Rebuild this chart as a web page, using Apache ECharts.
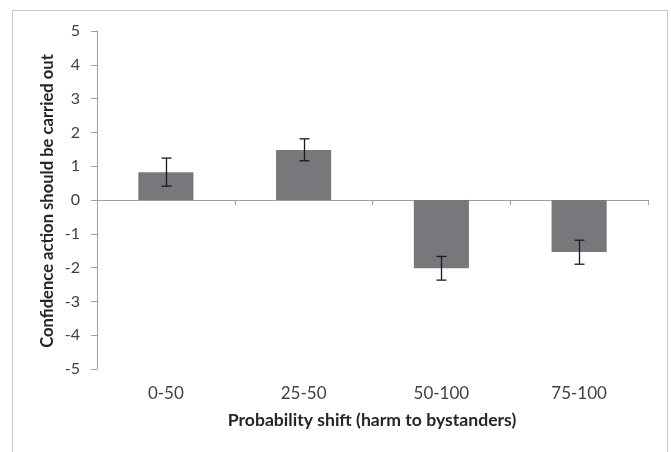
<!DOCTYPE html>
<html><head><meta charset="utf-8">
<script src="https://cdn.jsdelivr.net/npm/echarts@6/dist/echarts.min.js"></script>
<style>html,body{margin:0;padding:0;background:#fff}#c{width:671px;height:452px}</style>
</head><body><div id="c"></div>
<script>
const categories = ['0-50', '25-50', '50-100', '75-100'];
const means = [0.82, 1.48, -2.02, -1.54];
const errLow = [0.41, 1.16, -2.37, -1.90];
const errHigh = [1.24, 1.81, -1.67, -1.19];
const yTicks = [-5, 5, 1];

const FONT = 'Lato';
const chart = echarts.init(document.getElementById('c'));
chart.setOption({
  animation: false,
  backgroundColor: '#fff',
  textStyle: { fontFamily: FONT },
  graphic: [
    { type: 'rect', shape: { x: 12.5, y: 10.5, width: 655, height: 460 }, style: { fill: 'none', stroke: '#c8c8c8', lineWidth: 1 }, silent: true },
    { type: 'text', x: 48, y: 201, rotation: Math.PI / 2, style: { text: 'Confidence action should be carried out', font: 'bold 16.6px ' + FONT, fill: '#262626', align: 'center', verticalAlign: 'middle' } },
    { type: 'text', x: 372, y: 420, style: { text: 'Probability shift (harm to bystanders)', font: 'bold 17.6px ' + FONT, fill: '#262626', align: 'center', verticalAlign: 'middle' } }
  ],
  grid: { left: 97, right: 23, top: 31, bottom: 83 },
  xAxis: [
    { type: 'category', data: categories, axisLine: { onZero: true, lineStyle: { color: '#a0a0a0', width: 1 } },
      axisTick: { show: true, length: 5, lineStyle: { color: '#a0a0a0' } }, axisLabel: { show: false }, splitLine: { show: false } },
    { type: 'category', data: categories, position: 'bottom', axisLine: { show: false, onZero: false }, axisTick: { show: false },
      axisLabel: { show: true, margin: 16, fontSize: 17, color: '#404040', fontFamily: FONT } }
  ],
  yAxis: {
    type: 'value', min: yTicks[0], max: yTicks[1], interval: yTicks[2],
    axisLine: { show: true, lineStyle: { color: '#a0a0a0', width: 1 } },
    axisTick: { show: true, length: 6, lineStyle: { color: '#a0a0a0' } },
    axisLabel: { fontSize: 16, color: '#404040', margin: 17, fontFamily: FONT },
    splitLine: { show: false }
  },
  series: [
    { type: 'bar', data: means, barWidth: '40%', itemStyle: { color: '#77787b' }, xAxisIndex: 0 },
    { type: 'custom', xAxisIndex: 0, z: 5,
      data: categories.map((c, i) => [i, errLow[i], errHigh[i]]),
      renderItem: function (params, api) {
        const lo = api.coord([api.value(0), api.value(1)]);
        const hi = api.coord([api.value(0), api.value(2)]);
        const x = Math.round(lo[0]) + 0.5, w = 5;
        const st = { stroke: '#1a1a1a', lineWidth: 1.3 };
        return { type: 'group', children: [
          { type: 'line', shape: { x1: x, y1: lo[1], x2: x, y2: hi[1] }, style: st },
          { type: 'line', shape: { x1: x - w, y1: lo[1], x2: x + w, y2: lo[1] }, style: st },
          { type: 'line', shape: { x1: x - w, y1: hi[1], x2: x + w, y2: hi[1] }, style: st }
        ]};
      }
    }
  ]
});
</script></body></html>
